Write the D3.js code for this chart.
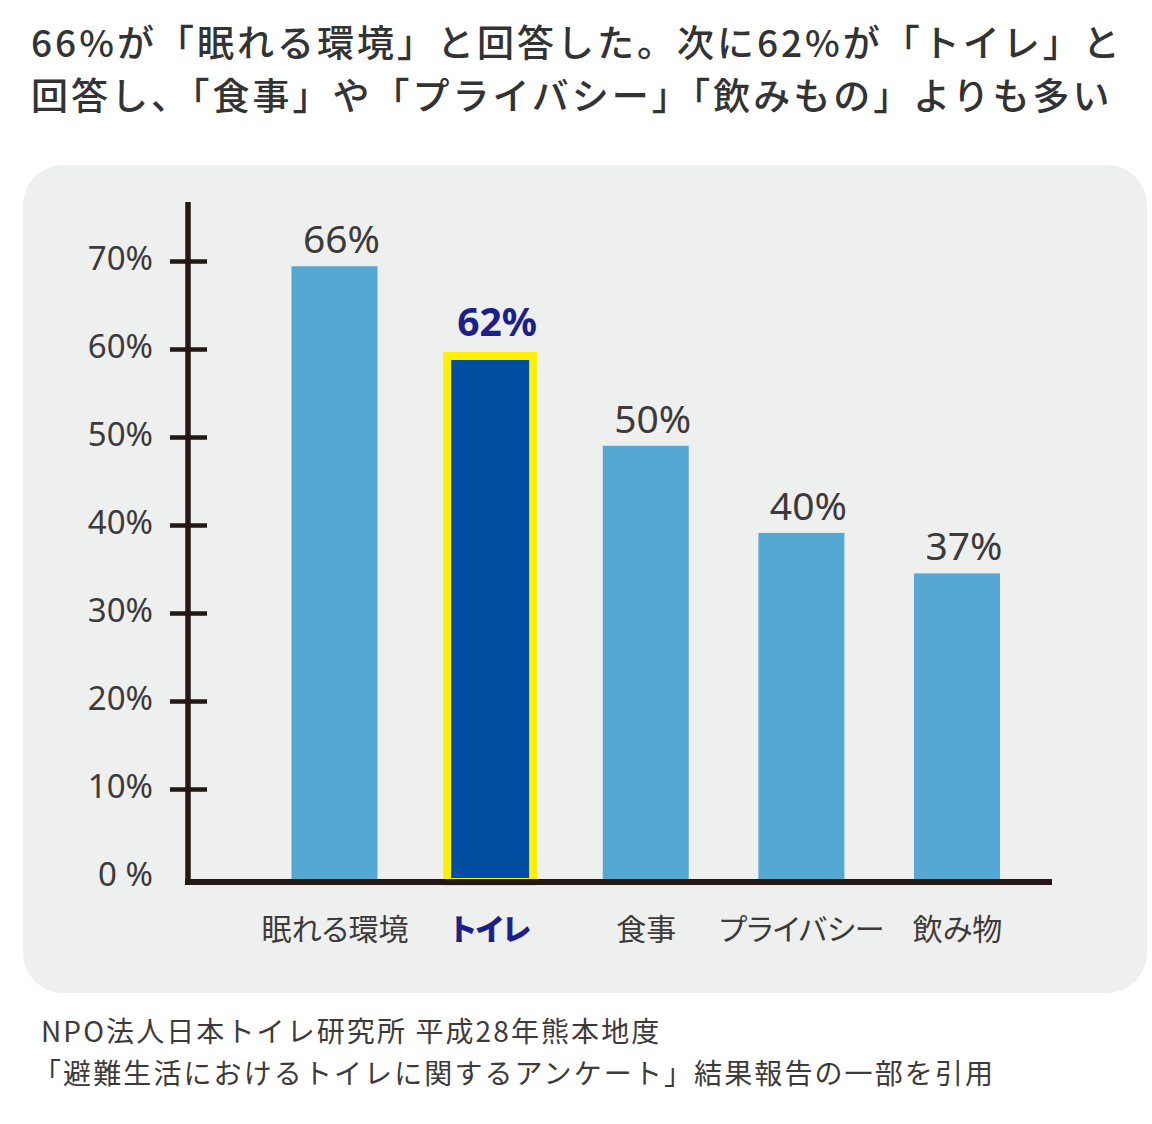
<!DOCTYPE html>
<html>
<head>
<meta charset="utf-8">
<script src="https://cdn.jsdelivr.net/npm/d3@7"></script>
<style>
  body { margin: 0; background: #fff; }
  svg { display: block; }
  .jp { font-family: "Noto Sans CJK JP", "Noto Sans", sans-serif; }
  .num { font-family: "Noto Sans", "Noto Sans CJK JP", sans-serif; }
</style>
</head>
<body>
<svg width="1152" height="1124"></svg>
<script>
// chart data
var categories = ["眠れる環境", "トイレ", "食事", "プライバシー", "飲み物"];
// bar heights as drawn against the axis (they don't quite match the printed labels)
var barHeights = [69.4, 59.2, 49.0, 39.1, 34.5];
var valueLabels = ["66%", "62%", "50%", "40%", "37%"];
var highlight = "トイレ";
var tickValues = [0, 10, 20, 30, 40, 50, 60, 70];
var tickLabels = ["0 %", "10%", "20%", "30%", "40%", "50%", "60%", "70%"];
var titleLines = [
    "66%が「眠れる環境」と回答した。次に62%が「トイレ」と",
    "回答し、「食事」や「プライバシー」「飲みもの」よりも多い"
];
var sourceLines = [
    "NPO法人日本トイレ研究所 平成28年熊本地度",
    "「避難生活におけるトイレに関するアンケート」結果報告の一部を引用"
];

var svg = d3.select("svg");
var ink = "#231815",
    textColor = "#3e3a39",
    lightBlue = "#55a7d4",
    darkBlue = "#004ea1",
    navy = "#1d2088",
    yellow = "#fff100";

// title
svg.append("g")
    .attr("class", "jp")
    .selectAll("text")
    .data(titleLines)
    .enter().append("text")
    .attr("x", 31)
    .attr("y", function(d, i) { return 57 + i * 53; })
    .attr("font-size", 37)
    .attr("font-weight", 500)
    .attr("letter-spacing", 3)
    .attr("fill", "#333")
    .text(function(d) { return d; });

// grey panel
svg.append("rect")
    .attr("x", 23)
    .attr("y", 165)
    .attr("width", 1124)
    .attr("height", 828)
    .attr("rx", 40)
    .attr("fill", "#eeefef");

var x = d3.scalePoint()
    .domain(categories)
    .range([334.5, 957]);

var y = d3.scaleLinear()
    .domain([0, 70])
    .range([877, 261]);

var barWidth = 86;
var axisY = y(0) + 5;

// bars
svg.append("g")
    .selectAll("rect")
    .data(categories)
    .enter().append("rect")
    .attr("x", function(d) { return x(d) - barWidth / 2; })
    .attr("y", function(d, i) { return y(barHeights[i]); })
    .attr("width", barWidth)
    .attr("height", function(d, i) { return axisY - y(barHeights[i]); })
    .attr("fill", function(d) { return d === highlight ? darkBlue : lightBlue; })
    .attr("stroke", function(d) { return d === highlight ? yellow : "none"; })
    .attr("stroke-width", 8);

// value labels
svg.append("g")
    .attr("class", "num")
    .attr("text-anchor", "middle")
    .selectAll("text")
    .data(categories)
    .enter().append("text")
    .attr("x", function(d) { return x(d) + 7; })
    .attr("y", function(d, i) { return y(barHeights[i]) - (d === highlight ? 20 : 13); })
    .attr("font-size", 39)
    .attr("font-weight", function(d) { return d === highlight ? 700 : 400; })
    .attr("fill", function(d) { return d === highlight ? navy : textColor; })
    .text(function(d, i) { return valueLabels[i]; });

// y axis
var yAxis = svg.append("g")
    .attr("transform", "translate(188,0)")
    .call(d3.axisLeft(y)
        .tickValues(tickValues)
        .tickSize(18)
        .tickPadding(17)
        .tickFormat(function(d, i) { return tickLabels[i]; }));

yAxis.select(".domain").remove();
yAxis.selectAll(".tick line")
    .attr("x1", 19)
    .attr("stroke", ink)
    .attr("stroke-width", 4.5)
    .attr("display", function(d) { return d === 0 ? "none" : null; });
yAxis.selectAll(".tick text")
    .attr("class", "num")
    .attr("font-size", 33)
    .attr("dy", "0.25em")
    .attr("fill", textColor);

svg.append("line")
    .attr("x1", 188)
    .attr("x2", 188)
    .attr("y1", 202)
    .attr("y2", axisY + 3)
    .attr("stroke", ink)
    .attr("stroke-width", 5.5);

// x axis
svg.append("line")
    .attr("x1", 185)
    .attr("x2", 1052)
    .attr("y1", axisY)
    .attr("y2", axisY)
    .attr("stroke", ink)
    .attr("stroke-width", 6);

var xAxis = svg.append("g")
    .attr("transform", "translate(0," + axisY + ")")
    .call(d3.axisBottom(x).tickSize(0).tickPadding(0));

xAxis.select(".domain").remove();
xAxis.selectAll(".tick text")
    .attr("class", "jp")
    .attr("y", 58)
    .attr("dy", null)
    .attr("font-size", 30)
    .attr("font-weight", function(d) { return d === highlight ? 900 : 400; })
    .style("font-feature-settings", "'palt'")
    .attr("fill", function(d) { return d === highlight ? navy : textColor; });

// source note
svg.append("g")
    .attr("class", "jp")
    .selectAll("text")
    .data(sourceLines)
    .enter().append("text")
    .attr("x", function(d, i) { return i === 0 ? 41 : 33; })
    .attr("y", function(d, i) { return 1042 + i * 42; })
    .attr("font-size", 28)
    .attr("letter-spacing", 2.1)
    .attr("fill", textColor)
    .text(function(d) { return d; });
</script>
</body>
</html>
